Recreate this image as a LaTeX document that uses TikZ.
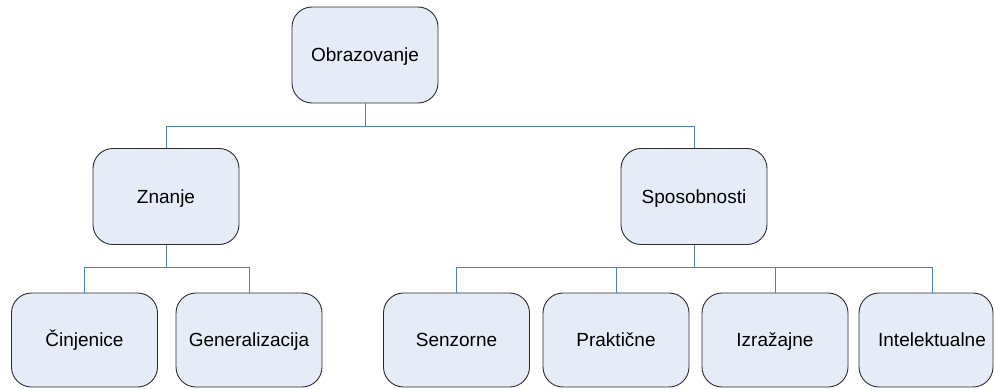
\documentclass[tikz,border=0pt]{standalone}
\usepackage{fontspec}
\setmainfont{Liberation Sans}
\definecolor{boxfill}{HTML}{E6ECF7}
\definecolor{boxline}{HTML}{2B2B2B}
\definecolor{conn}{HTML}{4F81BD}
\begin{document}
\begin{tikzpicture}[x=1pt,y=-1pt,
  box/.style={draw=boxline,line width=0.9pt,fill=boxfill,rounded corners=20pt,
    minimum width=146pt,minimum height=96pt,inner sep=0pt,
    text height=13.6pt,text depth=0pt,
    font=\fontsize{19}{22}\selectfont,text=black},
  leaf/.style={box,minimum height=94pt},
  link/.style={draw=conn,line width=1pt}]
\useasboundingbox (0,0) rectangle (995,388);
\clip (0,0) rectangle (995,388);
\node[box] (obr) at (365,55) {Obrazovanje};
\node[box] (zna) at (166,196.5) {Znanje};
\node[box] (spo) at (694,196.5) {Sposobnosti};
\node[leaf] (cin) at (84.5,340) {Činjenice};
\node[leaf] (gen) at (249,340) {Generalizacija};
\node[leaf] (sen) at (456.5,340) {Senzorne};
\node[leaf] (pra) at (616,340) {Praktične};
\node[leaf] (izr) at (775,340) {Izražajne};
\node[leaf,minimum width=134pt] (int) at (926,340) {\hspace*{12pt}Intelektualne};
\coordinate (b0) at (365,126);
\coordinate (b1) at (166,267);
\coordinate (b2) at (694,267);
\coordinate (intdrop) at (932,293);
\draw[link] (obr.south) -- (b0) -| (zna.north);
\draw[link] (b0) -| (spo.north);
\draw[link] (zna.south) -- (b1) -| (cin.north);
\draw[link] (b1) -| (gen.north);
\draw[link] (spo.south) -- (b2) -| (sen.north);
\draw[link] (b2) -| (intdrop);
\draw[link] (pra.north) |- (b2);
\draw[link] (izr.north) |- (b2);
\end{tikzpicture}
\end{document}
